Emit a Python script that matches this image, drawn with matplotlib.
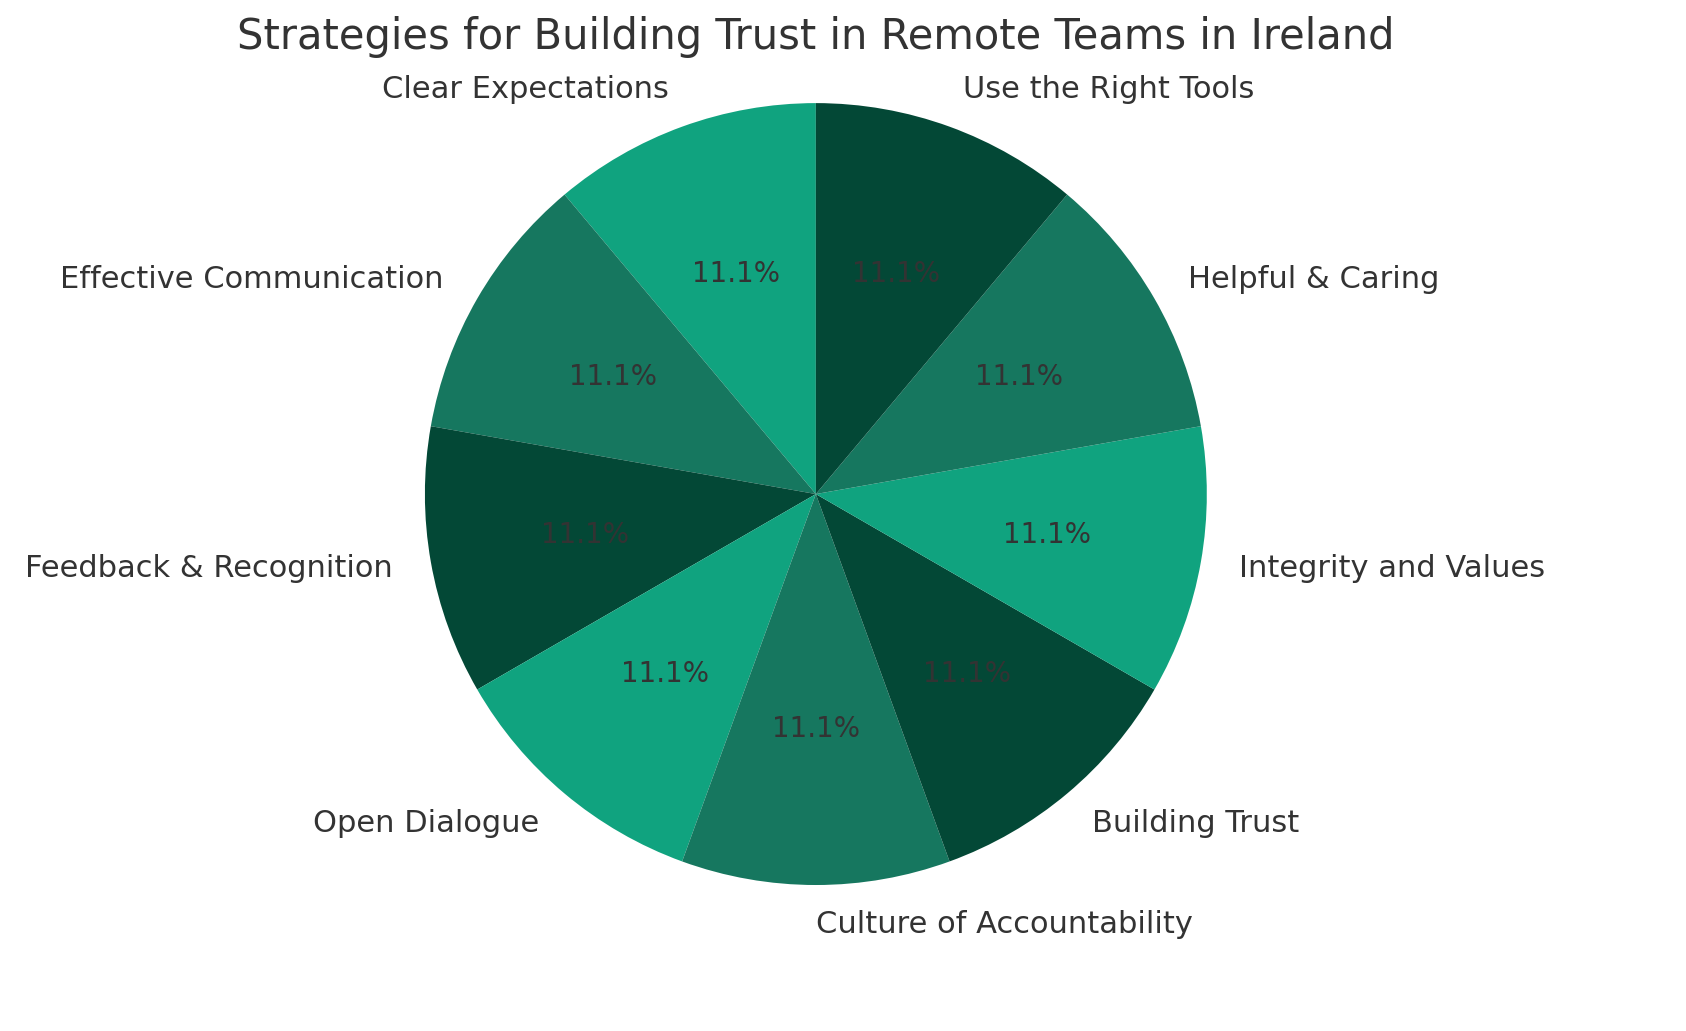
import matplotlib.pyplot as plt

labels = ['Clear Expectations', 'Effective Communication', 'Feedback & Recognition',
          'Open Dialogue', 'Culture of Accountability', 'Building Trust',
          'Integrity and Values', 'Helpful & Caring', 'Use the Right Tools']
values = [1, 1, 1, 1, 1, 1, 1, 1, 1]
colors = ['#10a37f', '#16775f', '#034836'] * 3

plt.rcParams['text.color'] = '#333333'

fig = plt.figure(figsize=(16.86, 10.31), dpi=100)
ax = fig.add_axes([0.194, 0.0468, 0.5798, 0.948])
ax.pie(values, labels=labels, colors=colors, autopct='%1.1f%%', startangle=90,
       wedgeprops={'linewidth': 0},
       textprops={'fontsize': 22, 'color': '#333333'})
for t in ax.texts:
    if t.get_text().endswith('%'):
        t.set_fontsize(20)
ax.set_aspect('equal')
fig.text(0.484, 0.964, 'Strategies for Building Trust in Remote Teams in Ireland',
         ha='center', va='center', fontsize=30, color='#333333')

plt.savefig('out.png', dpi=100)
